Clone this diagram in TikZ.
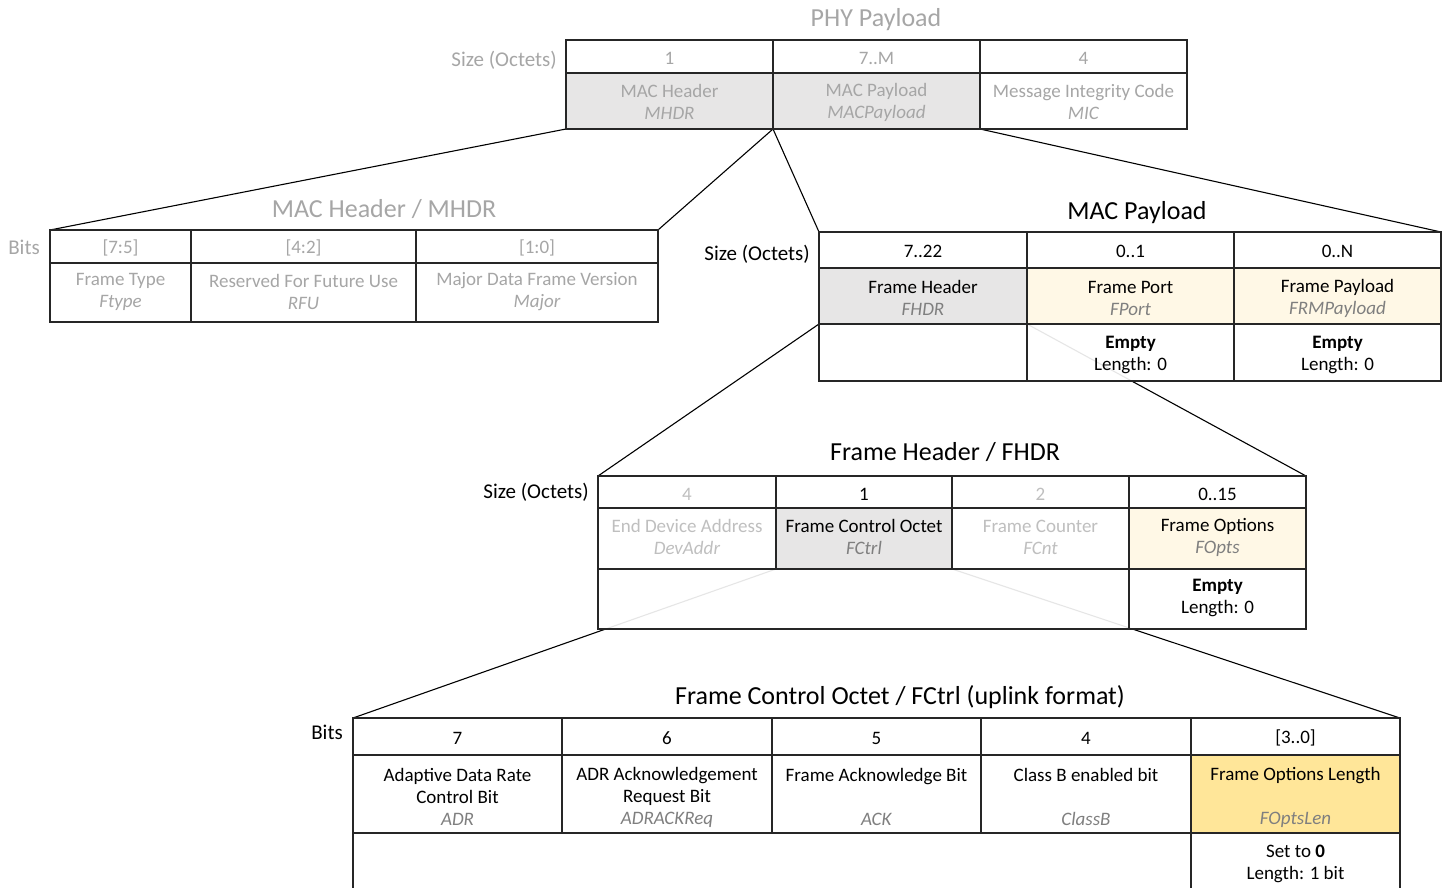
\documentclass[tikz,border=0pt]{standalone}
\usepackage{fontspec}
\setmainfont{Carlito}
\definecolor{cellgray}{HTML}{E7E6E6}
\definecolor{paleyel}{HTML}{FFF8E6}
\definecolor{stryel}{HTML}{FFE699}
\definecolor{fadetxt}{HTML}{A6A6A6}
\definecolor{fadetxtb}{HTML}{BFBFBF}
\definecolor{abbrcol}{HTML}{7F7F7F}
\definecolor{bordercol}{HTML}{262626}
\newcommand\abtx[1]{\textcolor{abbrcol}{\textit{#1}}}
\tikzset{
 tblline/.style={draw=bordercol, line width=1.3pt},
 whitecell/.style={fill=white, fill opacity=0.9},
 txt/.style={font=\fontsize{19}{22}\selectfont, align=center, inner sep=0pt, yshift=-1pt},
 ttl/.style={font=\fontsize{26}{30}\selectfont, inner sep=0pt, yshift=-1pt},
 lbl/.style={font=\fontsize{21}{24}\selectfont, inner sep=0pt, anchor=east, yshift=-1pt},
 conn/.style={draw=black, line width=1.1pt},
 faded/.style={text=fadetxt},
 fadedb/.style={text=fadetxtb},
}
\begin{document}
\begin{tikzpicture}[x=1pt,y=-1pt]
\useasboundingbox (0,0) rectangle (1446,888);
\clip (0,0) rectangle (1446,888);
% corner coordinates
\coordinate (pBL) at (566,129);
\coordinate (pB2) at (773,129);
\coordinate (pB3) at (980,129);
\coordinate (hTL) at (50,230);
\coordinate (hTR) at (658,230);
\coordinate (mTL) at (819,232);
\coordinate (mTR) at (1441,232);
\coordinate (mB1) at (819,324);
\coordinate (mB2) at (1027,324);
\coordinate (fTL) at (598,476);
\coordinate (fTR) at (1306,476);
\coordinate (fB2) at (776,569);
\coordinate (fB3) at (952,569);
\coordinate (cTL) at (353,718);
\coordinate (cTR) at (1400,718);
% connectors
\draw[conn] (pBL) -- (hTL);
\draw[conn] (pB2) -- (hTR);
\draw[conn] (pB2) -- (mTL);
\draw[conn] (pB3) -- (mTR);
\draw[conn] (mB1) -- (fTL);
\draw[conn] (mB2) -- (fTR);
\draw[conn] (fB2) -- (cTL);
\draw[conn] (fB3) -- (cTR);

% ===== PHY Payload table =====
\fill[white] (566,40) rectangle (1187,129);
\fill[cellgray] (566,73) rectangle (980,129);
\draw[tblline] (566,40) rectangle (1187,129);
\draw[tblline] (566,73) -- (1187,73);
\draw[tblline] (773,40) -- (773,129) (980,40) -- (980,129);
\node[ttl,faded] (phyT) at (876,19) {PHY Payload};
\node[lbl,faded] (phyS) at (557,59) {Size (Octets)};
\node[txt,faded] (p11) at (669.5,57) {1};
\node[txt,faded] (p12) at (876.5,57) {7..M};
\node[txt,faded] (p13) at (1083.5,57) {4};
\node[txt,faded] (p21) at (669.5,101) {MAC Header\\\textit{MHDR}};
\node[txt,faded] (p22) at (876.5,101) {MAC Payload\\\textit{MACPayload}};
\node[txt,faded] (p23) at (1083.5,101) {Message Integrity Code\\\textit{MIC}};

% ===== MHDR table =====
\fill[white] (50,230) rectangle (658,322);
\draw[tblline] (50,230) rectangle (658,322);
\draw[tblline] (50,263) -- (658,263);
\draw[tblline] (191,230) -- (191,322) (416,230) -- (416,322);
\node[ttl,faded] (mhT) at (384,208) {MAC Header / MHDR};
\node[lbl,faded] (mhS) at (40,246) {Bits};
\node[txt,faded] (h11) at (120.5,247) {[7:5]};
\node[txt,faded] (h12) at (303.5,247) {[4:2]};
\node[txt,faded] (h13) at (537,247) {[1:0]};
\node[txt,faded] (h21) at (120.5,291) {Frame Type\\\textit{Ftype}};
\node[txt,faded] (h22) at (303.5,291) {Reserved For Future Use\\\textit{RFU}};
\node[txt,faded] (h23) at (537,291) {Major Data Frame Version\\\textit{Major}};

% ===== MAC Payload table =====
\fill[white] (819,232) rectangle (1441,324);
\path[whitecell] (819,324) rectangle (1441,381);
\fill[cellgray] (819,268) rectangle (1027,324);
\fill[paleyel] (1027,268) rectangle (1441,324);
\draw[tblline] (819,232) rectangle (1441,381);
\draw[tblline] (819,268) -- (1441,268) (819,324) -- (1441,324);
\draw[tblline] (1027,232) -- (1027,381) (1234,232) -- (1234,381);
\node[ttl] (mpT) at (1137,212) {MAC Payload};
\node[lbl] (mpS) at (810,253) {Size (Octets)};
\node[txt] (m11) at (923,250) {7..22};
\node[txt] (m12) at (1130.5,250) {0..1};
\node[txt] (m13) at (1337.5,250) {0..N};
\node[txt] (m21) at (923,297) {Frame Header\\\abtx{FHDR}};
\node[txt] (m22) at (1130.5,297) {Frame Port\\\abtx{FPort}};
\node[txt] (m23) at (1337.5,297) {Frame Payload\\\abtx{FRMPayload}};
\node[txt] (m32) at (1130.5,354) {\textbf{Empty}\\Length: 0};
\node[txt] (m33) at (1337.5,354) {\textbf{Empty}\\Length: 0};

% ===== FHDR table =====
\fill[white] (598,476) rectangle (1306,569);
\path[whitecell] (598,569) rectangle (1306,629);
\fill[cellgray] (776,508) rectangle (952,569);
\fill[paleyel] (1129,508) rectangle (1306,569);
\draw[tblline] (598,476) rectangle (1306,629);
\draw[tblline] (598,508) -- (1306,508) (598,569) -- (1306,569);
\draw[tblline] (776,476) -- (776,569) (952,476) -- (952,569) (1129,476) -- (1129,629);
\node[ttl] (fhT) at (945,451) {Frame Header / FHDR};
\node[lbl] (fhS) at (589,491) {Size (Octets)};
\node[txt,fadedb] (f11) at (687,493) {4};
\node[txt] (f12) at (864,493) {1};
\node[txt,fadedb] (f13) at (1040.5,493) {2};
\node[txt] (f14) at (1217.5,493) {0..15};
\node[txt,fadedb] (f21) at (687,536) {End Device Address\\\textit{DevAddr}};
\node[txt] (f22) at (864,536) {Frame Control Octet\\\abtx{FCtrl}};
\node[txt,fadedb] (f23) at (1040.5,536) {Frame Counter\\\textit{FCnt}};
\node[txt] (f24) at (1217.5,536) {Frame Options\\\abtx{FOpts}};
\node[txt] (f34) at (1217.5,597) {\textbf{Empty}\\Length: 0};

% ===== FCtrl table =====
\fill[white] (353,718) rectangle (1400,833);
\path[whitecell] (353,833) rectangle (1400,900);
\fill[stryel] (1191,755) rectangle (1400,833);
\draw[tblline] (353,718) rectangle (1400,900);
\draw[tblline] (353,755) -- (1400,755) (353,833) -- (1400,833);
\draw[tblline] (562,718) -- (562,833) (772,718) -- (772,833) (981,718) -- (981,833) (1191,718) -- (1191,900);
\node[ttl] (fcT) at (900,696) {Frame Control Octet / FCtrl (uplink format)};
\node[lbl] (fcS) at (343,731) {Bits};
\node[txt] (c11) at (457.5,737) {7};
\node[txt] (c12) at (667,737) {6};
\node[txt] (c13) at (876.5,737) {5};
\node[txt] (c14) at (1086,737) {4};
\node[txt] (c15) at (1295.5,737) {[3..0]};
\node[txt] (c21) at (457.5,796) {Adaptive Data Rate\\Control Bit\\\abtx{ADR}};
\node[txt] (c22) at (667,796) {ADR Acknowledgement\\Request Bit\\\abtx{ADRACKReq}};
\node[txt] (c23) at (876.5,796) {Frame Acknowledge Bit\\\mbox{}\\\abtx{ACK}};
\node[txt] (c24) at (1086,796) {Class B enabled bit\\\mbox{}\\\abtx{ClassB}};
\node[txt] (c25) at (1295.5,796) {Frame Options Length\\\mbox{}\\\abtx{FOptsLen}};
\node[txt] (c35) at (1295.5,863) {Set to \textbf{0}\\Length: 1 bit};
\end{tikzpicture}
\end{document}
